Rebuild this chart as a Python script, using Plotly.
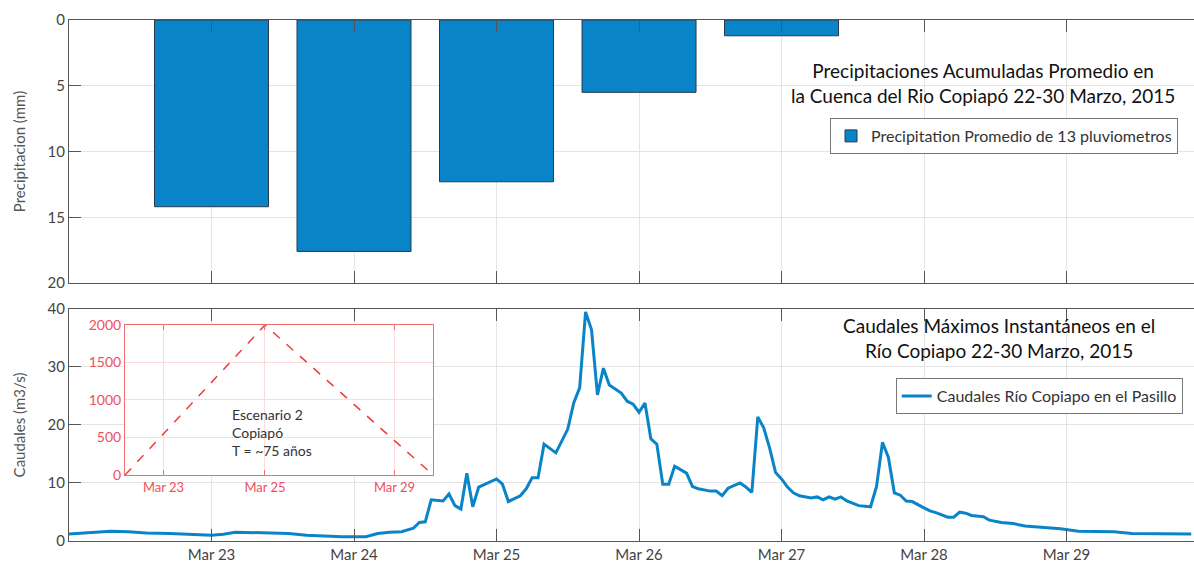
import pandas as pd
import plotly.graph_objects as go

# --- Precipitation (daily accumulated average of 13 rain gauges) ---
rain_days = ["2015-03-23", "2015-03-24", "2015-03-25", "2015-03-26", "2015-03-27"]
rain_mm = [14.2, 17.6, 12.3, 5.5, 1.2]

# --- Instantaneous streamflow, Río Copiapó at El Pasillo ---
flow_start = "2015-03-22 00:00"
flow_hours = [0, 4, 7, 10, 13, 17, 22, 24, 26, 28, 34, 37, 40, 44, 46, 50, 52, 54, 56, 58,
              59, 60, 61, 63, 64, 65, 66, 67, 68, 69, 72, 73, 74, 76, 77, 78, 79, 80, 82, 84,
              85, 86, 87, 88, 89, 90, 91, 93, 94, 95, 96, 97, 98, 99, 100, 101, 102, 104, 105, 106,
              108, 109, 110, 111, 113, 114, 115, 116, 117, 118, 119, 120, 121, 122, 123, 125, 126, 127, 128, 129,
              130, 131, 133, 135, 136, 137, 138, 139, 140, 141, 142, 144, 145, 146, 148, 149, 150, 151, 152, 154,
              155, 157, 159, 161, 164, 167, 170, 176, 179, 185, 189]
flow_m3s = [1.2, 1.5, 1.7, 1.6, 1.4, 1.3, 1.0, 1.0, 1.15, 1.5, 1.4, 1.3, 1.0, 0.86, 0.75, 0.75, 1.3, 1.5, 1.6, 2.2,
            3.2, 3.3, 7.1, 6.9, 8.1, 6.1, 5.5, 11.7, 5.9, 9.3, 10.7, 9.8, 6.8, 7.8, 9.0, 10.9, 10.9, 16.7, 15.2, 19.3,
            23.8, 26.4, 39.5, 36.4, 25.2, 29.8, 26.9, 25.5, 24.1, 23.6, 22.2, 23.8, 17.6, 16.7, 9.8, 9.8, 12.9, 11.7, 9.4, 9.0,
            8.6, 8.6, 7.8, 9.1, 10.0, 9.3, 8.4, 21.4, 19.5, 16.0, 11.8, 10.7, 9.3, 8.3, 7.8, 7.4, 7.6, 7.1, 7.6, 7.2,
            7.6, 6.9, 6.1, 5.9, 9.4, 17.0, 14.4, 8.3, 7.9, 6.9, 6.8, 5.7, 5.2, 4.9, 4.1, 4.1, 5.0, 4.8, 4.4, 4.2,
            3.6, 3.2, 3.0, 2.6, 2.4, 2.1, 1.7, 1.6, 1.3, 1.2, 1.2]

# Day ticks of the main time axis
day_ticks = ["2015-03-23", "2015-03-24", "2015-03-25", "2015-03-26",
             "2015-03-27", "2015-03-28", "2015-03-29"]

# --- Design hydrograph scenario (inset) ---
scen_times = ["2015-03-22 00:00", "2015-03-25 15:15", "2015-03-30 00:00"]
scen_q = [0, 2000, 0]
scen_tickvals = ["2015-03-23 00:00", "2015-03-25 15:15", "2015-03-29 00:00"]
scen_ticktext = ["Mar 23", "Mar 25", "Mar 29"]

flow_times = pd.Timestamp(flow_start) + pd.to_timedelta(flow_hours, unit="h")

FONT = "Lato"
BLUE = "#0a84c8"
AX = "#555555"
GRID = "#e4e4e4"
RED = "#f0505a"
RED_LINE = "#f36b6b"
RED_GRID = "#fbdcdc"

fig = go.Figure()

fig.add_trace(go.Bar(
    x=pd.to_datetime(rain_days), y=rain_mm, width=0.8 * 86400000,
    marker=dict(color=BLUE, line=dict(color="#2b3a48", width=1)),
    name="Precipitation Promedio de 13 pluviometros",
    xaxis="x", yaxis="y", legend="legend",
))

fig.add_trace(go.Scatter(
    x=flow_times, y=flow_m3s, mode="lines",
    line=dict(color=BLUE, width=3),
    name="Caudales Río Copiapo en el Pasillo",
    xaxis="x2", yaxis="y2", legend="legend2",
))

fig.add_trace(go.Scatter(
    x=pd.to_datetime(scen_times), y=scen_q, mode="lines",
    line=dict(color="#ef3b3b", width=1.5, dash="dash"),
    showlegend=False, xaxis="x3", yaxis="y3",
))

x_range = ["2015-03-22 00:00", "2015-03-29 21:28"]
tickfont = dict(family=FONT, size=15, color="#444444")

common_x = dict(type="date", range=x_range, tickvals=pd.to_datetime(day_ticks),
                showgrid=True, gridcolor=GRID, ticks="inside", ticklen=12,
                tickcolor=AX, showline=True, linecolor=AX, linewidth=1,
                mirror="ticks", zeroline=False)

fig.update_layout(
    width=1194, height=567,
    margin=dict(l=69, r=0, t=20, b=26),
    paper_bgcolor="white", plot_bgcolor="white",
    font=dict(family=FONT, color="#333333"),
    xaxis=dict(**common_x, domain=[0, 1], anchor="y", showticklabels=False),
    yaxis=dict(domain=[0.4952, 1], range=[20, 0], dtick=5, anchor="x",
               showgrid=True, gridcolor=GRID, ticks="inside", ticklen=12,
               tickcolor=AX, showline=True, linecolor=AX, zeroline=False,
               tickfont=tickfont,
               title=dict(text="Precipitacion (mm)", standoff=18,
                          font=dict(family=FONT, size=15, color="#555555"))),
    xaxis2=dict(**common_x, domain=[0, 1], anchor="y2", matches="x",
                tickformat="%b %d", tickfont=tickfont),
    yaxis2=dict(domain=[0, 0.4453], range=[0, 40], dtick=10, anchor="x2",
                showgrid=True, gridcolor=GRID, ticks="inside", ticklen=12,
                tickcolor=AX, showline=True, linecolor=AX, zeroline=False,
                tickfont=tickfont,
                title=dict(text="Caudales (m3/s)", standoff=18,
                           font=dict(family=FONT, size=15, color="#555555"))),
    xaxis3=dict(type="date", domain=[0.0498, 0.3236], anchor="y3",
                range=[scen_times[0], scen_times[-1]],
                tickvals=pd.to_datetime(scen_tickvals), ticktext=scen_ticktext,
                showgrid=True, gridcolor=RED_GRID, ticks="inside", ticklen=5,
                tickcolor=RED_LINE, showline=True, linecolor=RED_LINE,
                mirror="ticks", zeroline=False,
                tickfont=dict(family=FONT, size=13, color=RED)),
    yaxis3=dict(domain=[0.1267, 0.4146], anchor="x3", range=[0, 2000], dtick=500,
                showgrid=True, gridcolor=RED_GRID, ticks="", showline=True,
                linecolor=RED_LINE, mirror=True, zeroline=False,
                tickfont=dict(family=FONT, size=14, color=RED)),
    legend=dict(x=0.9858, y=0.8119, xanchor="right", yanchor="top",
                bgcolor="white", bordercolor="#777777", borderwidth=1,
                font=dict(family=FONT, size=16, color="#333333")),
    legend2=dict(x=0.990, y=0.3129, xanchor="right", yanchor="top",
                 bgcolor="white", bordercolor="#777777", borderwidth=1,
                 font=dict(family=FONT, size=16, color="#333333")),
    showlegend=True,
)

# white backing for the inset plot area
fig.add_shape(type="rect", xref="x3 domain", yref="y3 domain", x0=0, x1=1, y0=0, y1=1,
              fillcolor="white", line=dict(width=0), layer="below")

fig.add_annotation(text="Precipitaciones Acumuladas Promedio en<br>la Cuenca del Rio Copiapó 22-30 Marzo, 2015",
                   xref="paper", yref="paper", x=0.8128, y=0.88, xanchor="center", yanchor="middle",
                   showarrow=False, font=dict(family=FONT, size=19, color="#111111"))
fig.add_annotation(text="Caudales Máximos Instantáneos en el<br>Río Copiapo 22-30 Marzo, 2015",
                   xref="paper", yref="paper", x=0.8267, y=0.389, xanchor="center", yanchor="middle",
                   showarrow=False, font=dict(family=FONT, size=19, color="#111111"))
fig.add_annotation(text="Escenario 2<br>Copiapó<br>T = ~75 años",
                   xref="paper", yref="paper", x=0.1431, y=0.209, xanchor="left", yanchor="middle",
                   align="left", showarrow=False, font=dict(family=FONT, size=14, color="#333333"))

fig.write_html("out.html")
